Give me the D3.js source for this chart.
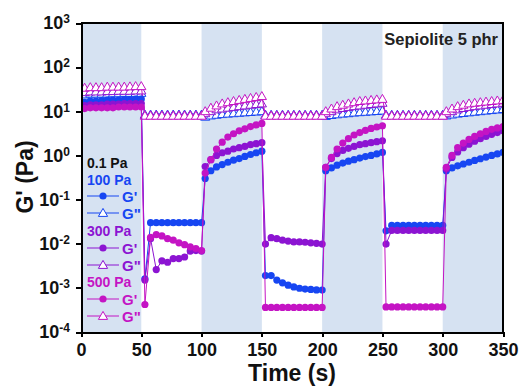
<!DOCTYPE html>
<meta charset="utf-8">
<style>
body { margin: 0; background: #fff; }
svg { font-family: Arial, "Liberation Sans", sans-serif; font-weight: bold; }
.axis path, .axis line { stroke: #000; stroke-width: 2px; shape-rendering: crispEdges; }
.axis text { font-size: 18px; font-weight: bold; fill: #111; }
.line { fill: none; stroke-width: 1px; }
</style>
<body>
<div id="chart"></div>
<script src="https://cdn.jsdelivr.net/npm/d3@7"></script>
<script>
// segment start times (s) and the sample offsets inside each 50 s step
var segStarts = [0, 50, 100, 150, 200, 250, 300];
var offsets = [3, 7.7, 12.4, 17.1, 21.8, 26.5, 31.2, 35.9, 40.6, 45.3, 50];
var bands = [[0, 50], [100, 150], [200, 250], [300, 350]];
var xTicks = [0, 50, 100, 150, 200, 250, 300, 350];
var yTicks = [-4, -3, -2, -1, 0, 1, 2, 3];

// G' (storage) per segment, Pa
var gp100 = [
  [16, 17, 17, 17.5, 18, 18, 18, 18.5, 18.5, 19, 19],
  [0.0016, 0.03, 0.03, 0.03, 0.03, 0.03, 0.03, 0.03, 0.03, 0.03, 0.03],
  [0.3, 0.45, 0.55, 0.62, 0.7, 0.78, 0.85, 0.95, 1.05, 1.15, 1.25],
  [0.0019, 0.0019, 0.0015, 0.0013, 0.00115, 0.00105, 0.00098, 0.00094, 0.00092, 0.0009, 0.00089],
  [0.45, 0.52, 0.6, 0.67, 0.74, 0.8, 0.87, 0.94, 1.0, 1.08, 1.17],
  [0.0196, 0.026, 0.026, 0.026, 0.026, 0.026, 0.026, 0.026, 0.026, 0.026, 0.026],
  [0.45, 0.52, 0.58, 0.64, 0.7, 0.77, 0.84, 0.92, 1.0, 1.08, 1.17]
];
var gp300 = [
  [13.5, 14, 14, 14, 14.5, 14.5, 14.5, 15, 15, 15, 15],
  [0.0015, 0.013, 0.0026, 0.0041, 0.0038, 0.0046, 0.0046, 0.005, 0.0068, 0.007, 0.0068],
  [0.56, 0.8, 1.0, 1.15, 1.25, 1.4, 1.5, 1.6, 1.75, 1.85, 1.95],
  [0.0098, 0.0137, 0.013, 0.012, 0.0115, 0.011, 0.011, 0.0108, 0.0105, 0.0102, 0.0098],
  [0.54, 0.85, 1.1, 1.3, 1.45, 1.6, 1.75, 1.85, 1.95, 2.05, 2.15],
  [0.0098, 0.02, 0.02, 0.02, 0.02, 0.02, 0.02, 0.02, 0.02, 0.02, 0.02],
  [0.5, 0.9, 1.2, 1.5, 1.8, 2.1, 2.4, 2.7, 3.0, 3.3, 3.6]
];
var gp500 = [
  [11.5, 12, 12, 12, 12, 12, 12.5, 12.5, 12.5, 12.5, 12.5],
  [0.00042, 0.014, 0.016, 0.015, 0.013, 0.012, 0.0105, 0.0095, 0.0085, 0.0078, 0.007],
  [0.4, 0.8, 1.4, 2.0, 2.6, 3.1, 3.6, 4.0, 4.5, 4.9, 5.3],
  [0.00036, 0.00036, 0.00036, 0.00036, 0.00036, 0.00036, 0.00036, 0.00036, 0.00036, 0.00036, 0.00036],
  [0.54, 0.9, 1.4, 1.9, 2.4, 2.9, 3.3, 3.7, 4.1, 4.4, 4.7],
  [0.00037, 0.00037, 0.00037, 0.00037, 0.00037, 0.00037, 0.00037, 0.00037, 0.00037, 0.00037, 0.00037],
  [0.54, 1.0, 1.5, 1.9, 2.3, 2.7, 3.1, 3.5, 3.9, 4.2, 4.5]
];
// G" (loss) per segment, Pa
var gpp100 = [
  [24, 25, 25, 25, 25, 25.5, 25.5, 26, 26, 26, 26],
  [8.4, 8.4, 8.4, 8.4, 8.4, 8.4, 8.4, 8.4, 8.4, 8.4, 8.4],
  [7.5, 8, 8.3, 8.6, 8.8, 9, 9.2, 9.4, 9.6, 9.8, 10],
  [8.3, 8.3, 8.3, 8.3, 8.3, 8.3, 8.3, 8.3, 8.3, 8.3, 8.3],
  [7.8, 8.2, 8.5, 8.8, 9, 9.3, 9.5, 9.7, 9.9, 10.1, 10.3],
  [8.3, 8.3, 8.3, 8.3, 8.3, 8.3, 8.3, 8.3, 8.3, 8.3, 8.3],
  [8, 8.4, 8.8, 9.1, 9.4, 9.7, 10, 10.3, 10.6, 10.9, 11.2]
];
var gpp300 = [
  [27, 28, 28, 28, 28.5, 28.5, 29, 29, 29, 29.5, 29.5],
  [8.1, 8.1, 8.1, 8.1, 8.1, 8.1, 8.1, 8.1, 8.1, 8.1, 8.1],
  [9, 10, 11, 11.5, 12, 12.5, 13, 13.5, 14, 14.5, 15],
  [8.1, 8.1, 8.1, 8.1, 8.1, 8.1, 8.1, 8.1, 8.1, 8.1, 8.1],
  [9, 10, 11, 11.8, 12.5, 13, 13.5, 14, 14.5, 15, 15.5],
  [8.1, 8.1, 8.1, 8.1, 8.1, 8.1, 8.1, 8.1, 8.1, 8.1, 8.1],
  [9, 10, 11, 11.8, 12.5, 13, 13.5, 14, 14.5, 15, 15.5]
];
var gpp500 = [
  [34, 35, 35, 35, 36, 36, 36, 36, 36.5, 37, 37],
  [7.9, 7.9, 7.9, 7.9, 7.9, 7.9, 7.9, 7.9, 7.9, 7.9, 7.9],
  [10, 12, 13.5, 15, 16, 17, 18, 19, 20, 21, 22],
  [7.9, 7.9, 7.9, 7.9, 7.9, 7.9, 7.9, 7.9, 7.9, 7.9, 7.9],
  [10, 11.5, 13, 14, 15, 16, 17, 17.5, 18, 18.5, 19],
  [7.9, 7.9, 7.9, 7.9, 7.9, 7.9, 7.9, 7.9, 7.9, 7.9, 7.9],
  [10, 11.5, 13, 14, 15, 15.5, 16, 16.5, 17, 17.5, 18]
];

var blue = "#1746f2", purple = "#8c14d2", magenta = "#c414c4";

var series = [
  {vals: gpp100, color: blue, tri: true},
  {vals: gpp300, color: purple, tri: true},
  {vals: gpp500, color: magenta, tri: true},
  {vals: gp100, color: blue, tri: false},
  {vals: gp300, color: purple, tri: false},
  {vals: gp500, color: magenta, tri: false}
];

var W = 521, H = 386;
var margin = {top: 23, right: 18, bottom: 54, left: 81};
var width = W - margin.left - margin.right,
    height = H - margin.top - margin.bottom;

var svg = d3.select("#chart").append("svg")
  .attr("width", W).attr("height", H);
var g = svg.append("g")
  .attr("transform", "translate(" + margin.left + "," + margin.top + ")");

var x = d3.scaleLinear().domain([0, 350]).range([0, width]);
var y = d3.scaleLog().domain([1e-4, 1e3]).range([height, 0]);

g.selectAll(".band").data(bands).enter().append("rect")
  .attr("x", function(d) { return x(d[0]); })
  .attr("width", function(d) { return x(d[1]) - x(d[0]); })
  .attr("y", 0).attr("height", height)
  .attr("fill", "#d6e2f2");

svg.append("defs").append("clipPath").attr("id", "clip")
  .append("rect").attr("width", width).attr("height", height);

var tri = "M0,-4.6L4.6,3.4L-4.6,3.4Z";

function points(vals) {
  var pts = [];
  vals.forEach(function(seg, s) {
    seg.forEach(function(v, i) { pts.push([segStarts[s] + offsets[i], v]); });
  });
  return pts;
}

var line = d3.line()
  .x(function(d) { return x(d[0]); })
  .y(function(d) { return y(d[1]); });

var plot = g.append("g").attr("clip-path", "url(#clip)");
series.forEach(function(sr) {
  var pts = points(sr.vals);
  plot.append("path").datum(pts).attr("class", "line")
    .attr("stroke", sr.color).attr("d", line);
  if (sr.tri) {
    plot.selectAll(null).data(pts).enter().append("path")
      .attr("d", tri)
      .attr("transform", function(d) { return "translate(" + x(d[0]) + "," + y(d[1]) + ")"; })
      .attr("fill", "#fff").attr("stroke", sr.color).attr("stroke-width", 1);
  } else {
    plot.selectAll(null).data(pts).enter().append("circle")
      .attr("cx", function(d) { return x(d[0]); })
      .attr("cy", function(d) { return y(d[1]); })
      .attr("r", 3.6).attr("fill", sr.color);
  }
});

// frame
g.append("path")
  .attr("d", "M0,0H" + width + "V" + height)
  .attr("fill", "none").attr("stroke", "#000").attr("stroke-width", 2);

g.append("g").attr("class", "axis")
  .attr("transform", "translate(0," + height + ")")
  .call(d3.axisBottom(x).tickValues(xTicks).tickSize(5).tickPadding(6).tickSizeOuter(0));

var yAxis = g.append("g").attr("class", "axis")
  .call(d3.axisLeft(y).tickValues(yTicks.map(function(e) { return Math.pow(10, e); }))
    .tickSize(5).tickPadding(6).tickSizeOuter(0));
yAxis.selectAll(".tick text").each(function(d) {
  var t = d3.select(this).text(null);
  t.append("tspan").text("10");
  t.append("tspan").attr("dy", "-0.5em").style("font-size", "12px")
    .text(Math.round(Math.log10(d)));
});

svg.append("text")
  .attr("x", margin.left + width / 2).attr("y", 381)
  .attr("text-anchor", "middle").style("font-size", "23px").attr("fill", "#111")
  .text("Time (s)");

svg.append("text")
  .attr("transform", "translate(33,177) rotate(-90)")
  .attr("text-anchor", "middle").style("font-size", "23px").attr("fill", "#111")
  .text("G' (Pa)");

svg.append("text")
  .attr("x", 498).attr("y", 45).attr("text-anchor", "end")
  .style("font-size", "16.5px").attr("fill", "#222")
  .text("Sepiolite 5 phr");

// legend
var legRows = [
  {label: "0.1 Pa", color: "#111", y: 163},
  {label: "100 Pa", color: blue, y: 180},
  {label: "G'", color: blue, y: 196, mark: "c"},
  {label: "G\"", color: blue, y: 213, mark: "t"},
  {label: "300 Pa", color: purple, y: 231},
  {label: "G'", color: purple, y: 248, mark: "c"},
  {label: "G\"", color: purple, y: 265, mark: "t"},
  {label: "500 Pa", color: magenta, y: 282},
  {label: "G'", color: magenta, y: 299, mark: "c"},
  {label: "G\"", color: magenta, y: 316, mark: "t"}
];
var leg = svg.append("g");
legRows.forEach(function(r) {
  if (r.mark) {
    leg.append("line").attr("x1", 87).attr("x2", 119)
      .attr("y1", r.y).attr("y2", r.y).attr("stroke", r.color).attr("stroke-width", 1);
    if (r.mark === "c") {
      leg.append("circle").attr("cx", 103).attr("cy", r.y).attr("r", 3.6).attr("fill", r.color);
    } else {
      leg.append("path").attr("d", tri).attr("transform", "translate(103," + r.y + ")")
        .attr("fill", "#fff").attr("stroke", r.color);
    }
    leg.append("text").attr("x", 122).attr("y", r.y + 5.5)
      .style("font-size", "15px").attr("fill", r.color).text(r.label);
  } else {
    leg.append("text").attr("x", 87).attr("y", r.y + 5)
      .style("font-size", "14px").attr("fill", r.color).text(r.label);
  }
});
</script>
</body>
